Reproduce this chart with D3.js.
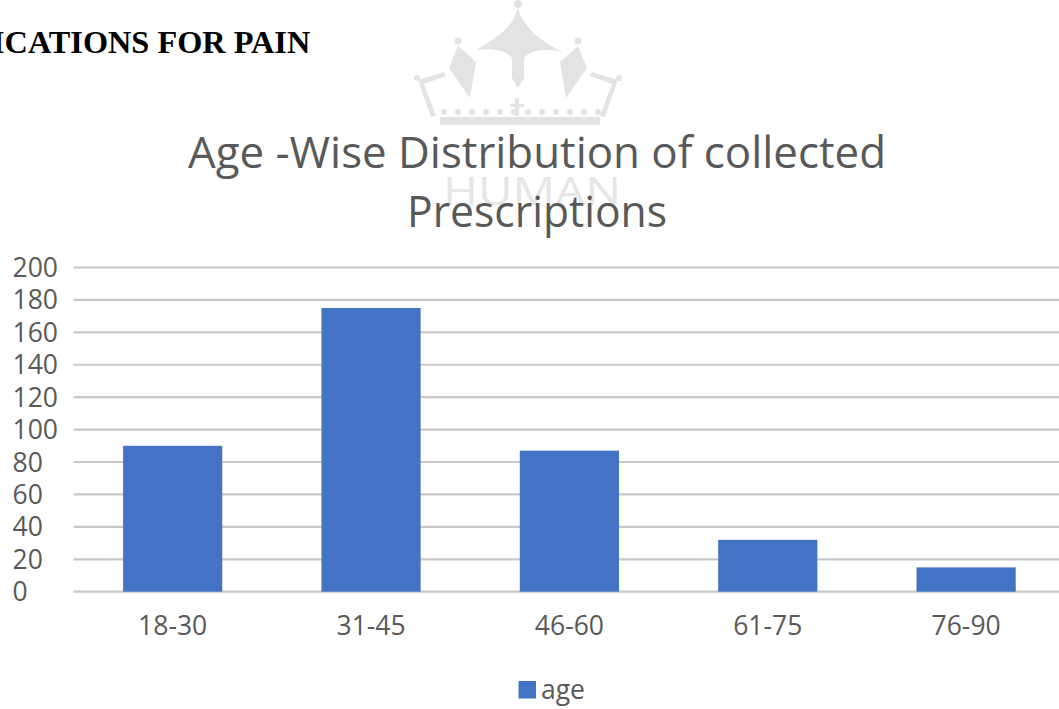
<!DOCTYPE html>
<html>
<head>
<meta charset="utf-8">
<script src="https://cdnjs.cloudflare.com/ajax/libs/d3/7.8.5/d3.min.js"></script>
<style>
  body { margin: 0; background: #fff; }
  svg { display: block; }
</style>
</head>
<body>
<div id="chart"></div>
<script>
const ageGroups = ["18-30", "31-45", "46-60", "61-75", "76-90"];
const ageCounts = [90, 175, 87, 32, 15];
const yTicks = [0, 20, 40, 60, 80, 100, 120, 140, 160, 180, 200];
const titleLines = ["Age -Wise Distribution of collected", "Prescriptions"];
const seriesName = "age";

const width = 1059;
const height = 709;
const font = "'Open Sans', 'Noto Sans', sans-serif";
const textGray = "#595959";

const svg = d3.select("#chart").append("svg")
  .attr("width", width)
  .attr("height", height);

// page heading cut off at the left edge (as in the scanned page)
svg.append("text")
  .attr("x", -8)
  .attr("y", 53)
  .attr("font-family", "'Liberation Serif', 'Times New Roman', serif")
  .attr("font-weight", "bold")
  .attr("font-size", 32.3)
  .attr("fill", "#000")
  .text("ICATIONS FOR PAIN");

// faint watermark (crown + HUMAN)
const wm = svg.append("g").attr("fill", "#e3e3e3").attr("stroke", "none");
wm.append("circle").attr("cx", 518).attr("cy", 4).attr("r", 4);
wm.append("path").attr("d",
  "M518,8 C512,30 492,40 476,50 C492,48 506,50 512,58 L512,78 L518,88 L524,78 L524,58 C530,50 546,48 562,52 C544,42 524,30 518,8 Z");
wm.append("circle").attr("cx", 458).attr("cy", 41).attr("r", 3.5);
wm.append("path").attr("d", "M458,46 L449,68 L470,98 L476,62 Z");
wm.append("circle").attr("cx", 578).attr("cy", 41).attr("r", 3.5);
wm.append("path").attr("d", "M578,46 L587,68 L566,98 L560,62 Z");
wm.append("circle").attr("cx", 417).attr("cy", 78).attr("r", 3);
wm.append("path").attr("d", "M418,80 L444,72 L446,76 L424,84 L436,116 L431,117 Z");
wm.append("circle").attr("cx", 619).attr("cy", 78).attr("r", 3);
wm.append("path").attr("d", "M618,80 L592,72 L590,76 L612,84 L600,116 L605,117 Z");
wm.append("rect").attr("x", 440).attr("y", 117).attr("width", 160).attr("height", 8);
d3.range(444, 600, 14).forEach(cx => {
  wm.append("circle").attr("cx", cx).attr("cy", 112).attr("r", 3);
});
wm.append("rect").attr("x", 515).attr("y", 98).attr("width", 4).attr("height", 18);
wm.append("rect").attr("x", 510).attr("y", 104).attr("width", 14).attr("height", 3);
svg.append("text")
  .attr("x", 532)
  .attr("y", 205)
  .attr("text-anchor", "middle")
  .attr("font-family", font)
  .attr("font-size", 38)
  .attr("fill", "#e6e6e6")
  .attr("textLength", 178)
  .attr("lengthAdjust", "spacingAndGlyphs")
  .text("HUMAN");

// title
const titleLengths = [698, 260];
svg.append("g").selectAll("text")
  .data(titleLines)
  .join("text")
  .attr("x", 537)
  .attr("y", (d, i) => 168 + i * 59)
  .attr("text-anchor", "middle")
  .attr("font-family", font)
  .attr("font-size", 44)
  .attr("fill", textGray)
  .attr("textLength", (d, i) => titleLengths[i])
  .attr("lengthAdjust", "spacingAndGlyphs")
  .text(d => d);

// scales
const x = d3.scaleBand()
  .domain(ageGroups)
  .range([73.5, 1065.3])
  .paddingInner(0.5)
  .paddingOuter(0.25);

const y = d3.scaleLinear()
  .domain([0, 200])
  .range([591.7, 267.5]);

// gridlines
svg.append("g").selectAll("line")
  .data(yTicks)
  .join("line")
  .attr("x1", x.range()[0])
  .attr("x2", x.range()[1])
  .attr("y1", d => y(d))
  .attr("y2", d => y(d))
  .attr("stroke", "#c8c8c8")
  .attr("stroke-width", 2.2);

// y tick labels (left aligned like the original)
svg.append("g").selectAll("text")
  .data(yTicks)
  .join("text")
  .attr("x", 12.5)
  .attr("y", d => y(d) + 9.5)
  .attr("font-family", font)
  .attr("font-size", 26.5)
  .attr("fill", textGray)
  .text(d => d);

// bars
svg.append("g").selectAll("rect")
  .data(ageGroups)
  .join("rect")
  .attr("x", d => x(d))
  .attr("width", x.bandwidth())
  .attr("y", (d, i) => y(ageCounts[i]))
  .attr("height", (d, i) => y(0) - y(ageCounts[i]))
  .attr("fill", "#4472c4");

// x axis labels
const xAxis = d3.axisBottom(x).tickSize(0).tickPadding(0);
svg.append("g")
  .attr("transform", "translate(0, 616)")
  .call(xAxis)
  .call(g => g.select(".domain").remove())
  .selectAll("text")
  .attr("dy", 0)
  .attr("y", 19)
  .attr("font-family", font)
  .attr("font-size", 26.5)
  .attr("fill", textGray);

// legend
const legend = svg.append("g").attr("transform", "translate(518.5, 681)");
legend.append("rect")
  .attr("width", 17.5)
  .attr("height", 17.5)
  .attr("fill", "#4472c4");
legend.append("text")
  .attr("x", 22.5)
  .attr("y", 18)
  .attr("font-family", font)
  .attr("font-size", 26.5)
  .attr("fill", textGray)
  .text(seriesName);
</script>
</body>
</html>
